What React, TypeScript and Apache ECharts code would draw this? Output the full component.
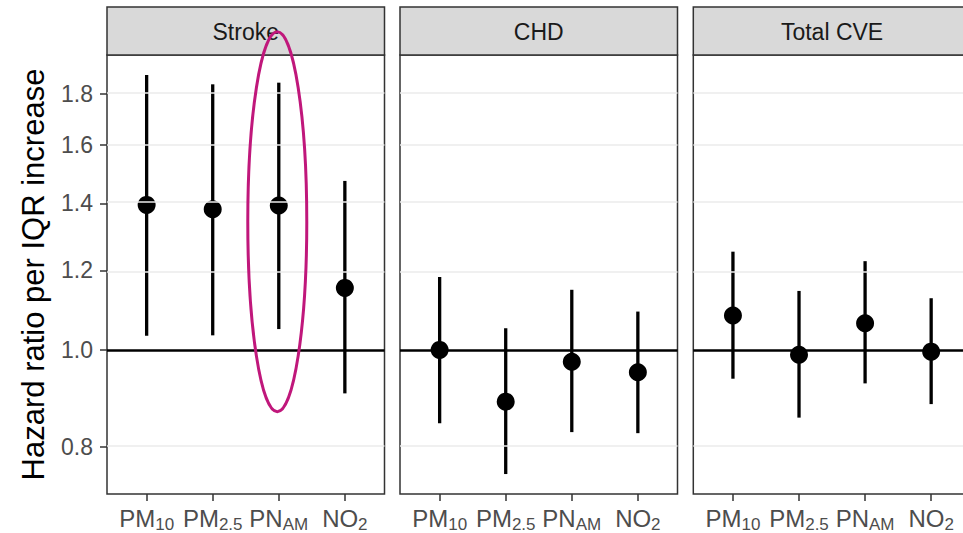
import React, { useEffect, useRef } from "react";
import * as echarts from "echarts";

const outcomes = ["Stroke", "CHD", "Total CVE"];
const pollutants = ["PM10", "PM2.5", "PNAM", "NO2"];
const pollutantLabels = ["{m|PM}{s|10}", "{m|PM}{s|2.5}", "{m|PN}{s|AM}", "{m|NO}{s|2}"];

const strokeHR = [1.395, 1.381, 1.393, 1.153];
const strokeLo = [1.033, 1.034, 1.049, 0.905];
const strokeHi = [1.88, 1.84, 1.847, 1.474];

const chdHR = [1.0, 0.888, 0.973, 0.95];
const chdLo = [0.845, 0.752, 0.828, 0.826];
const chdHi = [1.182, 1.051, 1.148, 1.092];

const cveHR = [1.082, 0.989, 1.063, 0.996];
const cveLo = [0.936, 0.856, 0.926, 0.883];
const cveHi = [1.253, 1.145, 1.226, 1.126];

const yTicks = [0.8, 1.0, 1.2, 1.4, 1.6, 1.8];
const referenceHR = 1.0;

const FONT = "'Liberation Sans', Arial, Helvetica, sans-serif";

const panelLeft = [107, 400, 693.3];
const panelWidth = 277.5;
const panelTop = 55;
const panelHeight = 439;
const stripTop = 7;

export default function App() {
  const ref = useRef<HTMLDivElement>(null);

  useEffect(() => {
    if (!ref.current) return;
    const chart = echarts.init(ref.current, null, { renderer: "svg" });

    const hr = [strokeHR, chdHR, cveHR];
    const lo = [strokeLo, chdLo, cveLo];
    const hi = [strokeHi, chdHi, cveHi];

    // ggplot-like 5% expansion on the log scale
    const allLn = [...strokeLo, ...strokeHi, ...chdLo, ...chdHi, ...cveLo, ...cveHi].map(Math.log);
    const dMin = Math.min(...allLn);
    const dMax = Math.max(...allLn);
    const ext = (dMax - dMin) * 0.05;
    const yMin = dMin - ext;
    const yMax = dMax + ext;
    const yTickLn = yTicks.map(Math.log);
    const xVals = pollutants.map((_, i) => i + 1);

    const grids = panelLeft.map((l) => ({
      left: l,
      top: panelTop,
      width: panelWidth,
      height: panelHeight,
      show: true,
      backgroundColor: "#fff",
      borderColor: "#333333",
      borderWidth: 1.5,
      containLabel: false,
      outerBoundsMode: "none",
    }));

    const xAxes = panelLeft.map((_, i) => ({
      type: "value",
      gridIndex: i,
      position: "bottom",
      min: 0.4,
      max: 4.6,
      axisLine: { show: false, onZero: false },
      splitLine: { show: false },
      axisTick: {
        show: true,
        customValues: xVals,
        length: 7,
        lineStyle: { color: "#333333", width: 1.5 },
      },
      axisLabel: {
        show: true,
        customValues: xVals,
        margin: 9,
        formatter: (v: number) => pollutantLabels[Math.round(v) - 1] || "",
        rich: {
          m: { fontSize: 24, color: "#4D4D4D", fontFamily: FONT, lineHeight: 30 },
          s: { fontSize: 17, color: "#4D4D4D", fontFamily: FONT, verticalAlign: "bottom", lineHeight: 12 },
        },
      },
    }));

    const yAxes = panelLeft.map((_, i) => ({
      type: "value",
      gridIndex: i,
      position: "left",
      min: yMin,
      max: yMax,
      axisLine: { show: false, onZero: false },
      splitLine: { show: false },
      axisTick: {
        show: i === 0,
        customValues: yTickLn,
        length: 7,
        lineStyle: { color: "#333333", width: 1.5 },
      },
      axisLabel: {
        show: i === 0,
        customValues: yTickLn,
        margin: 14,
        formatter: (v: number) => Math.exp(v).toFixed(1),
        fontSize: 23,
        color: "#4D4D4D",
        fontFamily: FONT,
      },
    }));

    const series: any[] = [];
    panelLeft.forEach((_, p) => {
      series.push({
        type: "line",
        xAxisIndex: p,
        yAxisIndex: p,
        data: xVals.map((x, i) => [x, Math.log(hr[p][i])]),
        showSymbol: false,
        lineStyle: { opacity: 0, width: 0 },
        silent: true,
        z: 1,
        markLine: {
          silent: true,
          symbol: ["none", "none"],
          label: { show: false },
          animation: false,
          data: [
            ...yTicks
              .filter((t) => t !== referenceHR)
              .map((t) => ({ yAxis: Math.log(t), lineStyle: { color: "#EBEBEB", width: 1.5, type: "solid" } })),
            { yAxis: Math.log(referenceHR), lineStyle: { color: "#000", width: 2.5, type: "solid" } },
          ],
        },
      });
      series.push({
        type: "custom",
        xAxisIndex: p,
        yAxisIndex: p,
        z: 3,
        silent: true,
        data: xVals.map((x, i) => [x, Math.log(lo[p][i]), Math.log(hi[p][i])]),
        encode: { x: 0, y: [1, 2] },
        renderItem: (params: any, api: any) => {
          const x = api.value(0);
          const a = api.coord([x, api.value(1)]);
          const b = api.coord([x, api.value(2)]);
          return {
            type: "line",
            shape: { x1: a[0], y1: a[1], x2: b[0], y2: b[1] },
            style: { stroke: "#000", lineWidth: 3.3 },
          };
        },
      });
      series.push({
        type: "scatter",
        xAxisIndex: p,
        yAxisIndex: p,
        z: 4,
        symbol: "circle",
        symbolSize: 18,
        itemStyle: { color: "#000", opacity: 1 },
        data: xVals.map((x, i) => [x, Math.log(hr[p][i])]),
      });
    });

    const graphics: any[] = [];
    outcomes.forEach((name, p) => {
      graphics.push({
        type: "rect",
        id: "strip" + p,
        shape: { x: panelLeft[p], y: stripTop, width: panelWidth, height: panelTop - stripTop },
        style: { fill: "#D9D9D9", stroke: "#333333", lineWidth: 1.5 },
        z: 10,
      });
      graphics.push({
        type: "text",
        id: "stripText" + p,
        x: panelLeft[p] + panelWidth / 2,
        y: (stripTop + panelTop) / 2 + 1,
        style: {
          text: name,
          fontSize: 23,
          fontFamily: FONT,
          fill: "#1A1A1A",
          textAlign: "center",
          textVerticalAlign: "middle",
        },
        z: 11,
      });
    });
    graphics.push({
      type: "text",
      id: "ytitle",
      x: 33,
      y: panelTop + panelHeight / 2,
      rotation: Math.PI / 2,
      style: {
        text: "Hazard ratio per IQR increase",
        fontSize: 31,
        fontFamily: FONT,
        fill: "#000",
        textAlign: "center",
        textVerticalAlign: "middle",
      },
      z: 11,
    });

    const option: any = {
      animation: false,
      backgroundColor: "#fff",
      grid: grids,
      xAxis: xAxes,
      yAxis: yAxes,
      series,
      graphic: { elements: graphics },
    };
    chart.setOption(option);

    // highlight ellipse around PN_AM in Stroke panel
    const c = chart.convertToPixel({ xAxisIndex: 0, yAxisIndex: 0 }, [3, Math.log(1.342)]) as number[];
    if (c && isFinite(c[0])) {
      chart.setOption({
        graphic: {
          elements: [
            ...graphics,
            {
              type: "ellipse",
              id: "highlight",
              shape: { cx: c[0] - 1.5, cy: c[1], rx: 29.5, ry: 190 },
              style: { fill: "none", stroke: "#C0177B", lineWidth: 3 },
              z: 20,
            },
          ],
        },
      });
    }

    return () => chart.dispose();
  }, []);

  return (
    <div
      ref={ref}
      style={{ position: "absolute", left: 0, top: 0, width: 963, height: 533 }}
    />
  );
}
